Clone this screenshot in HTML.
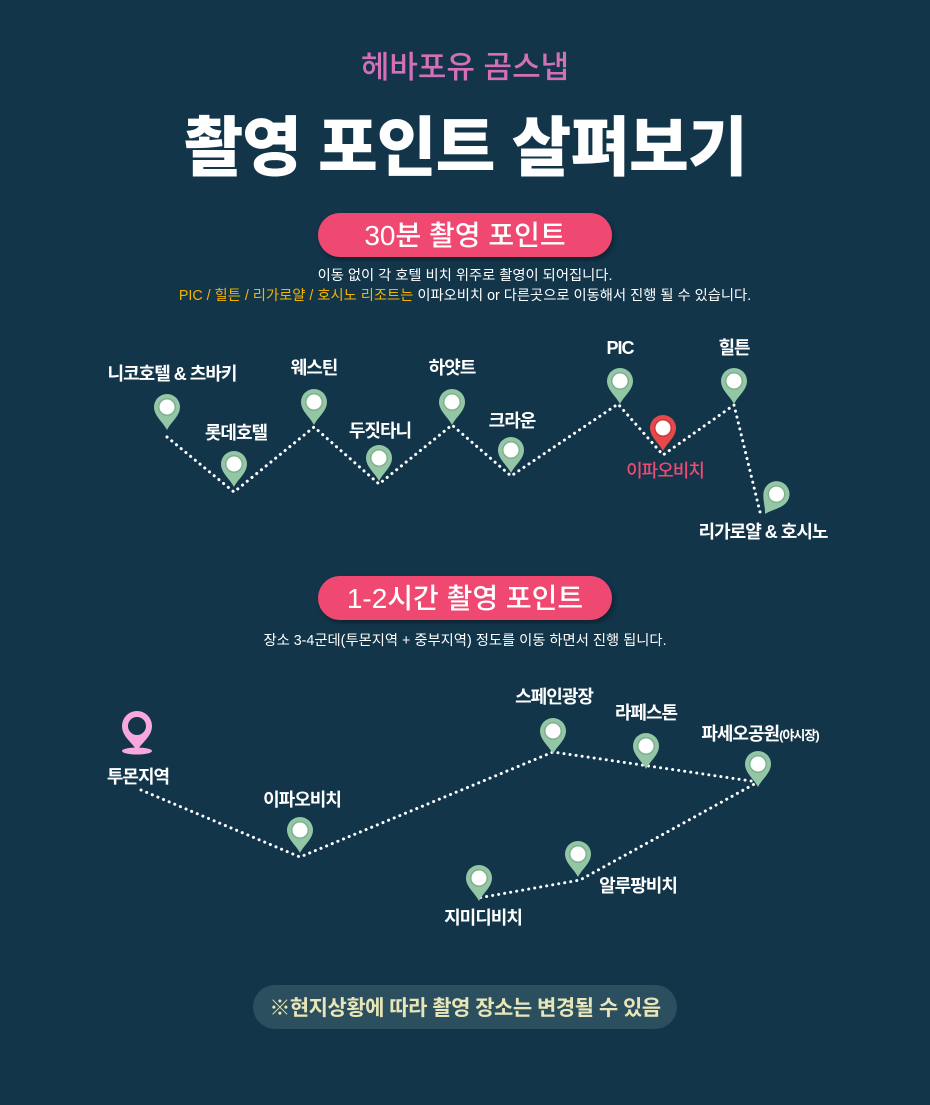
<!DOCTYPE html>
<html><head><meta charset="utf-8"><style>
html,body{margin:0;padding:0;background:#12354a;}
body{width:930px;height:1100px;overflow:hidden;}
svg text{font-family:"Liberation Sans","Noto Sans CJK KR",sans-serif;}
</style></head><body>
<svg width="930" height="1100" viewBox="0 0 930 1100" xmlns="http://www.w3.org/2000/svg">
<defs>
<g id="pin"><path d="M0,22 C-4,14 -13,8 -13,-1 A13,13 0 1 1 13,-1 C13,8 4,14 0,22 Z" fill="#93c6a5"/><circle cx="0" cy="-1" r="9" fill="#7fb08f"/><circle cx="0" cy="-1" r="7.5" fill="#fff"/></g>
<g id="rpin"><path d="M0,22 C-4,14 -13,8 -13,-1 A13,13 0 1 1 13,-1 C13,8 4,14 0,22 Z" fill="#e8484a"/><circle cx="0" cy="-1" r="9" fill="#c93a3c"/><circle cx="0" cy="-1" r="7.5" fill="#fff"/></g>
<filter id="sh"><feDropShadow dx="2" dy="3" stdDeviation="3" flood-color="#000" flood-opacity="0.35"/></filter>
</defs>
<rect width="930" height="1100" fill="#12354a"/>
<text x="465" y="78" text-anchor="middle" font-size="31" fill="#d370b6" font-weight="500">헤바포유 곰스냅</text>
<text x="465" y="170" text-anchor="middle" font-size="65" fill="#fff" font-weight="900" letter-spacing="-1">촬영 포인트 살펴보기</text>

<rect x="318" y="213" width="294" height="44" rx="22" fill="#ef4a72" filter="url(#sh)"/>
<text x="465" y="245" text-anchor="middle" font-size="28" fill="#fff" font-weight="500">30분 촬영 포인트</text>
<text x="465" y="280" text-anchor="middle" font-size="14.3" fill="#fff">이동 없이 각 호텔 비치 위주로 촬영이 되어집니다.</text>
<text x="465" y="300" text-anchor="middle" font-size="14.3" fill="#fff"><tspan fill="#f5b400">PIC / 힐튼 / 리가로얄 / 호시노 리조트는</tspan> 이파오비치 or 다른곳으로 이동해서 진행 될 수 있습니다.</text>

<polyline points="167,437 234,492 314,427 379,484 452,425 511,476 618,404 663,455 734,405 760,512" fill="none" stroke="#fff" stroke-width="3" stroke-dasharray="0.1 6" stroke-linecap="round"/>
<use href="#pin" x="167" y="408"/>
<use href="#pin" x="234" y="465"/>
<use href="#pin" x="314" y="403"/>
<use href="#pin" x="379" y="459"/>
<use href="#pin" x="452" y="403"/>
<use href="#pin" x="511" y="451"/>
<use href="#pin" x="620" y="382"/>
<use href="#rpin" x="663" y="429"/>
<use href="#pin" x="734" y="382"/>
<g transform="translate(776,495) rotate(30)"><use href="#pin"/></g>
<g font-size="18" fill="#fff" font-weight="700" text-anchor="middle" letter-spacing="-1">
<text x="172" y="380">니코호텔 &amp; 츠바키</text>
<text x="236" y="439">롯데호텔</text>
<text x="314" y="374">웨스틴</text>
<text x="380" y="437">두짓타니</text>
<text x="452" y="374">하얏트</text>
<text x="512" y="427">크라운</text>
<text x="620" y="354">PIC</text>
<text x="734" y="354">힐튼</text>
<text x="665" y="477" fill="#ef4a72" font-weight="500">이파오비치</text>
<text x="763" y="538">리가로얄 &amp; 호시노</text>
</g>

<rect x="318" y="576" width="294" height="44" rx="22" fill="#ef4a72" filter="url(#sh)"/>
<text x="465" y="608" text-anchor="middle" font-size="28" fill="#fff" font-weight="500">1-2시간 촬영 포인트</text>
<text x="465" y="645" text-anchor="middle" font-size="14.3" fill="#fff">장소 3-4군데(투몬지역 + 중부지역) 정도를 이동 하면서 진행 됩니다.</text>

<polyline points="141,790 300,857 553,752 758,782 580,880 478,898" fill="none" stroke="#fff" stroke-width="3" stroke-dasharray="0.1 6" stroke-linecap="round"/>
<g>
<ellipse cx="137" cy="751" rx="15" ry="3.5" fill="#f7a8dd"/>
<path d="M137,751 C133,743 122,737 122,726 A15,15 0 1 1 152,726 C152,737 141,743 137,751 Z" fill="#f7a8dd"/>
<circle cx="137" cy="726" r="9" fill="#12354a"/>
</g>
<use href="#pin" x="300" y="831"/>
<use href="#pin" x="553" y="732"/>
<use href="#pin" x="646" y="747"/>
<use href="#pin" x="758" y="765"/>
<use href="#pin" x="578" y="855"/>
<use href="#pin" x="479" y="879"/>
<g font-size="18" fill="#fff" font-weight="700" text-anchor="middle" letter-spacing="-1">
<text x="138" y="783">투몬지역</text>
<text x="302" y="806">이파오비치</text>
<text x="554" y="703">스페인광장</text>
<text x="646" y="719">라페스톤</text>
<text x="760" y="740">파세오공원<tspan font-size="13">(야시장)</tspan></text>
<text x="638" y="892">알루팡비치</text>
<text x="483" y="924">지미디비치</text>
</g>

<rect x="253" y="985" width="424" height="44" rx="22" fill="#2b4f5f"/>
<text x="465" y="1015" text-anchor="middle" font-size="21" fill="#e8e6b8" font-weight="700" letter-spacing="-0.5">※현지상황에 따라 촬영 장소는 변경될 수 있음</text>
</svg>
</body></html>
